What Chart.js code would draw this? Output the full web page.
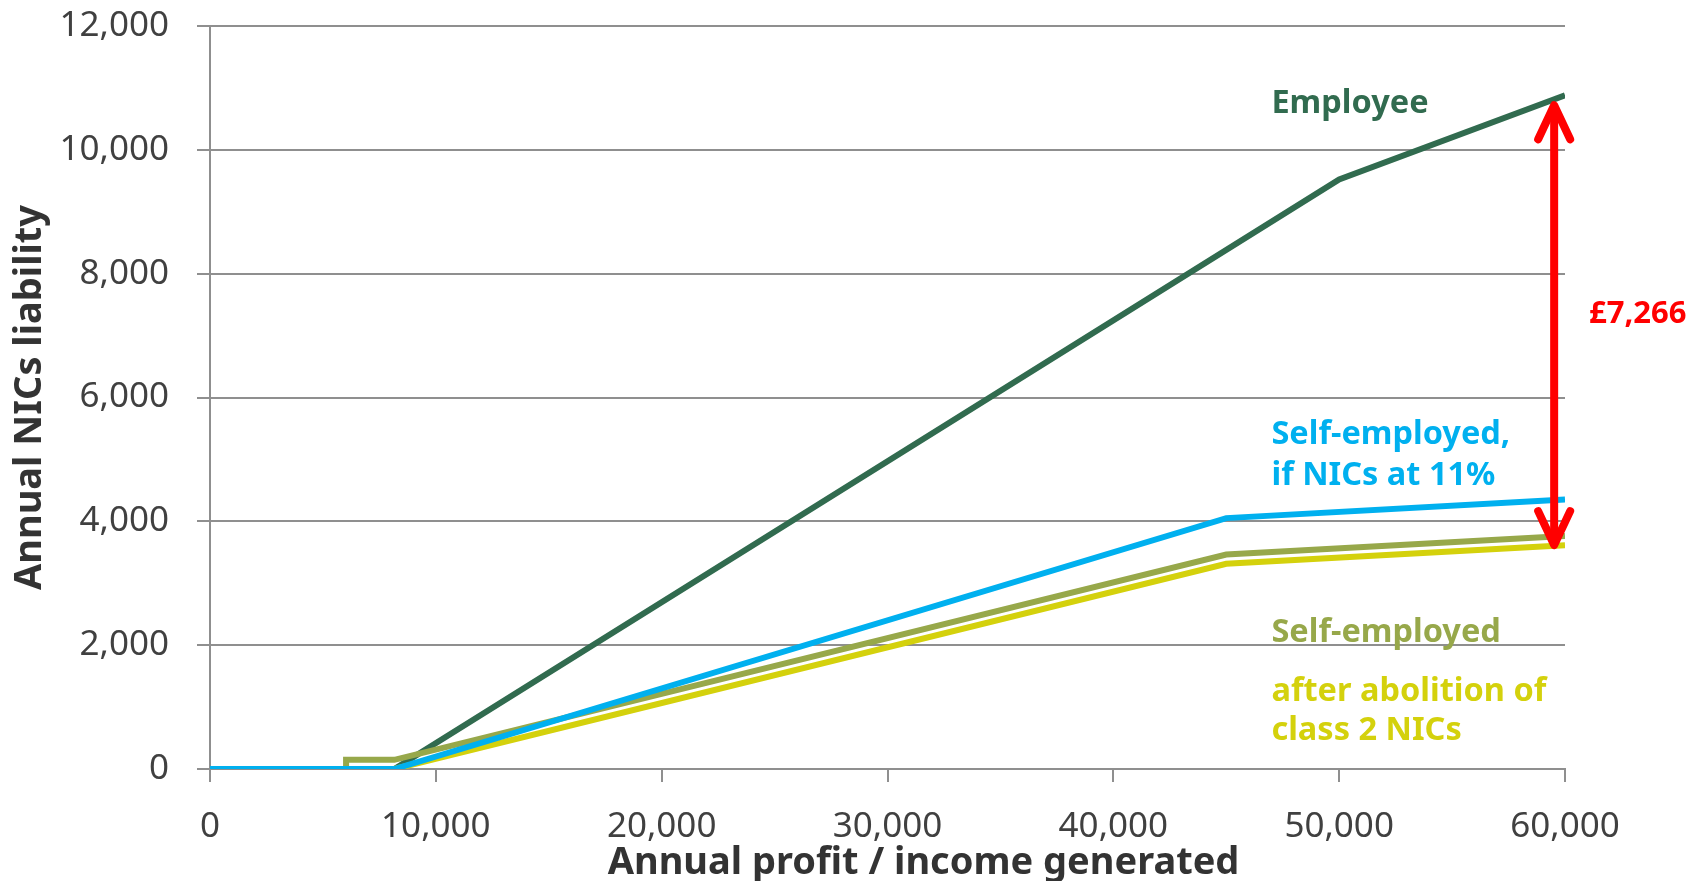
<!DOCTYPE html>
<html>
<head>
<meta charset="utf-8">
<script src="https://cdn.jsdelivr.net/npm/chart.js@4.4.1/dist/chart.umd.min.js"></script>
<style>
  html, body { margin: 0; padding: 0; background: #ffffff; }
  #wrap { width: 1704px; height: 881px; }
</style>
</head>
<body>
<div id="wrap"><canvas id="nics" width="1704" height="881"></canvas></div>
<script>
// Annual NICs liability by annual profit / income (£)
const employeeIncome = [0, 8164, 50000, 60000];
const employeeNics   = [0, 0, 9520, 10881];

const selfEmpIncome  = [0, 6025, 6025, 8164, 45000, 60000];
const selfEmpNics    = [0, 0, 148, 148, 3463, 3763];

const noClass2Income = [0, 8164, 45000, 60000];
const noClass2Nics   = [0, 0, 3315, 3615];

const at11Income     = [0, 8164, 45000, 60000];
const at11Nics       = [0, 0, 4052, 4352];

// Gap between employee and self-employed (after class 2 abolition) at £60,000
const gapValue = 7266;
const gapIncome = 59520;
const gapLabelAt = { x: 61060, y: 7350 };

const xTitle = 'Annual profit / income generated';
const yTitle = 'Annual NICs liability';

const COLORS = {
  employee: '#316B4F',
  selfEmp:  '#97A84A',
  noClass2: '#D4D10C',
  at11:     '#00B0EF',
  gap:      '#FF0000',
  grid:     '#8F8F8F',
  tick:     '#404040',
  title:    '#333333'
};

// Series labels placed in data units
const noteLabels = [
  { text: 'Employee',           color: COLORS.employee, x: 47000, y: 10740 },
  { text: 'Self-employed,',     color: COLORS.at11,     x: 47000, y: 5400 },
  { text: 'if NICs at 11%',     color: COLORS.at11,     x: 47000, y: 4740 },
  { text: 'Self-employed',      color: COLORS.selfEmp,  x: 47000, y: 2200 },
  { text: 'after abolition of', color: COLORS.noClass2, x: 47000, y: 1250 },
  { text: 'class 2 NICs',       color: COLORS.noClass2, x: 47000, y: 620 }
];

const toPoints = (xs, ys) => xs.map((x, i) => ({ x: x, y: ys[i] }));

const FONT = "'Noto Sans', 'Open Sans', sans-serif";
Chart.defaults.font.family = FONT;

const notesPlugin = {
  id: 'notes',
  afterDatasetsDraw(chart) {
    const { ctx, chartArea, scales: { x, y } } = chart;
    ctx.save();
    ctx.font = 'bold 32.5px ' + FONT;
    ctx.textAlign = 'left';
    ctx.textBaseline = 'middle';
    noteLabels.forEach(n => {
      ctx.fillStyle = n.color;
      ctx.fillText(n.text, x.getPixelForValue(n.x), y.getPixelForValue(n.y));
    });

    // double-headed arrow showing the gap
    const low = noClass2Nics[noClass2Nics.length - 1];
    const high = low + gapValue;
    const ax = x.getPixelForValue(gapIncome);
    const yTop = y.getPixelForValue(high) + 10;
    const yBot = y.getPixelForValue(low);
    ctx.strokeStyle = COLORS.gap;
    ctx.lineWidth = 8;
    ctx.lineCap = 'round';
    ctx.lineJoin = 'round';
    ctx.beginPath();
    ctx.moveTo(ax, yTop + 4);
    ctx.lineTo(ax, yBot - 4);
    ctx.stroke();
    ctx.beginPath();
    ctx.moveTo(ax - 16, yTop + 34);
    ctx.lineTo(ax, yTop);
    ctx.lineTo(ax + 16, yTop + 34);
    ctx.stroke();
    ctx.beginPath();
    ctx.moveTo(ax - 16, yBot - 34);
    ctx.lineTo(ax, yBot);
    ctx.lineTo(ax + 16, yBot - 34);
    ctx.stroke();

    ctx.fillStyle = COLORS.gap;
    ctx.font = 'bold 31px ' + FONT;
    ctx.fillText('£' + gapValue.toLocaleString('en-GB'),
      x.getPixelForValue(gapLabelAt.x), y.getPixelForValue(gapLabelAt.y));

    // x-axis title, set slightly right of the plot centre
    ctx.fillStyle = COLORS.title;
    ctx.font = 'bold 38px ' + FONT;
    ctx.textAlign = 'center';
    ctx.fillText(xTitle, (chartArea.left + chartArea.right) / 2 + 36, x.bottom - 18);
    ctx.restore();
  }
};

const lineStyle = (color) => ({
  borderColor: color,
  backgroundColor: color,
  borderWidth: 6,
  pointRadius: 0,
  tension: 0,
  fill: false,
  borderCapStyle: 'butt',
  borderJoinStyle: 'miter'
});

new Chart(document.getElementById('nics'), {
  type: 'line',
  data: {
    datasets: [
      Object.assign({ label: 'Self-employed, if NICs at 11%', data: toPoints(at11Income, at11Nics) }, lineStyle(COLORS.at11)),
      Object.assign({ label: 'Self-employed', data: toPoints(selfEmpIncome, selfEmpNics) }, lineStyle(COLORS.selfEmp)),
      Object.assign({ label: 'After abolition of class 2 NICs', data: toPoints(noClass2Income, noClass2Nics) }, lineStyle(COLORS.noClass2)),
      Object.assign({ label: 'Employee', data: toPoints(employeeIncome, employeeNics) }, lineStyle(COLORS.employee))
    ]
  },
  options: {
    responsive: false,
    animation: false,
    layout: { padding: { top: 0, right: 139, bottom: 0, left: 7 } },
    plugins: { legend: { display: false }, tooltip: { enabled: false } },
    scales: {
      x: {
        type: 'linear',
        min: 0, max: 60000,
        ticks: {
          stepSize: 10000, color: COLORS.tick, font: { size: 35 }, padding: 24, maxRotation: 0,
          callback: v => v.toLocaleString('en-GB')
        },
        grid: { drawOnChartArea: false, drawTicks: true, tickLength: 13, color: COLORS.grid, lineWidth: 2 },
        border: { color: COLORS.grid, width: 2 },
        afterFit: s => { s.height = 112; }
      },
      y: {
        min: 0, max: 12000,
        ticks: {
          stepSize: 2000, color: COLORS.tick, font: { size: 35 }, padding: 28,
          callback: v => v.toLocaleString('en-GB')
        },
        grid: { color: COLORS.grid, lineWidth: 2, tickLength: 13 },
        border: { color: COLORS.grid, width: 2 },
        title: {
          display: true, text: yTitle, color: COLORS.title,
          font: { size: 38, weight: 'bold' }, padding: { top: 0, bottom: 0 }
        },
        afterFit: s => { s.width = 203; s.paddingTop = 26; }
      }
    }
  },
  plugins: [notesPlugin]
});
</script>
</body>
</html>
